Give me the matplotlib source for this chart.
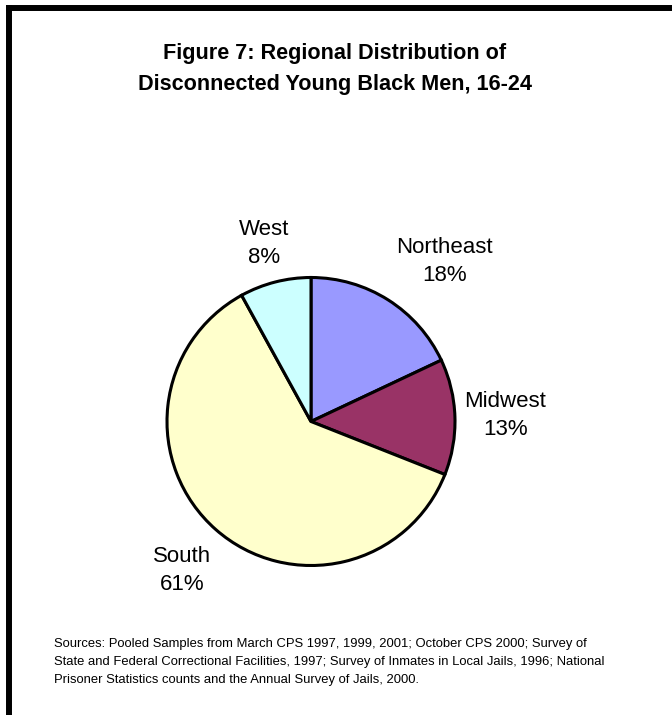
import matplotlib
matplotlib.use('Agg')
import matplotlib.pyplot as plt
from matplotlib.lines import Line2D
import numpy as np

plt.rcParams['font.family'] = ['Liberation Sans', 'DejaVu Sans']

regions = ['Northeast', 'Midwest', 'South', 'West']
shares = [18, 13, 61, 8]
colors = ['#9999FF', '#993366', '#FFFFCC', '#CCFFFF']

title = 'Figure 7: Regional Distribution of\nDisconnected Young Black Men, 16-24'
sources = ('Sources: Pooled Samples from March CPS 1997, 1999, 2001; October CPS 2000; Survey of\n'
           'State and Federal Correctional Facilities, 1997; Survey of Inmates in Local Jails, 1996; National\n'
           'Prisoner Statistics counts and the Annual Survey of Jails, 2000.')

# label placement: distance from centre and angle nudge (degrees) per wedge
label_dist = [1.45, 1.35, 1.37, 1.28]
label_nudge = [-7.5, 0.0, 0.5, 0.5]

W, H = 672, 715
fig = plt.figure(figsize=(W / 100, H / 100), dpi=100)

# frame lines along top and left edges
fig.add_artist(Line2D([9 / W, 9 / W], [0, 1 - 5 / H], color='black', lw=4.3,
                      transform=fig.transFigure, solid_capstyle='butt'))
fig.add_artist(Line2D([6 / W, 1], [1 - 8 / H, 1 - 8 / H], color='black', lw=4.3,
                      transform=fig.transFigure, solid_capstyle='butt'))

fig.text(335 / W, 1 - 69 / H, title, ha='center', va='center',
         fontsize=15.6, fontweight='bold', linespacing=1.58)

cx, cy, r = 311, 421.5, 144
ax = fig.add_axes([(cx - r) / W, (H - cy - r) / H, 2 * r / W, 2 * r / H])
wedges, _ = ax.pie(shares, colors=colors, startangle=90, counterclock=False,
                   wedgeprops=dict(edgecolor='black', linewidth=2.2))
ax.set_xlim(-1, 1)
ax.set_ylim(-1, 1)
ax.axis('off')

for w, name, val, d, nd in zip(wedges, regions, shares, label_dist, label_nudge):
    ang = np.deg2rad((w.theta1 + w.theta2) / 2 + nd)
    ax.text(d * np.cos(ang), d * np.sin(ang), f'{name}\n{val}%',
            ha='center', va='center', fontsize=16, linespacing=1.45)

fig.text(54 / W, 1 - 638 / H, sources, ha='left', va='top',
         fontsize=9.4, linespacing=1.65)

fig.savefig('out.png', dpi=100, facecolor='white')
